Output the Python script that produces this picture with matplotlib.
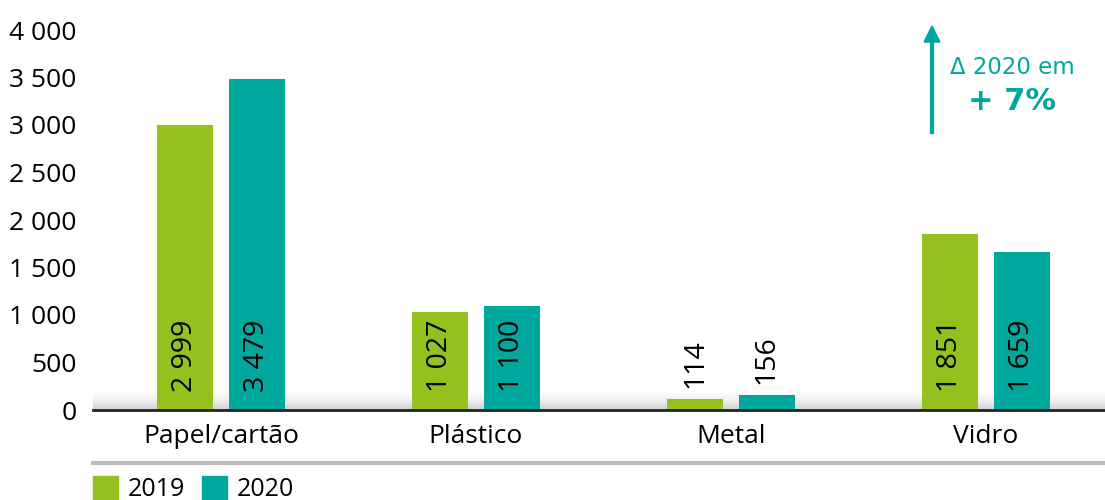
import numpy as np
import matplotlib.pyplot as plt
from matplotlib.patches import Rectangle

categories = ['Papel/cartão', 'Plástico', 'Metal', 'Vidro']
vals_2019 = [2999, 1027, 114, 1851]
vals_2020 = [3479, 1100, 156, 1659]
labels_2019 = ['2 999', '1 027', '114', '1 851']
labels_2020 = ['3 479', '1 100', '156', '1 659']
yticks = [0, 500, 1000, 1500, 2000, 2500, 3000, 3500, 4000]
ytick_labels = ['0', '500', '1 000', '1 500', '2 000', '2 500', '3 000', '3 500', '4 000']

green = '#95C11F'
teal = '#00A79D'

plt.rcParams['font.family'] = ['Open Sans', 'DejaVu Sans']

fig = plt.figure(figsize=(11.05, 5.0), dpi=100)
# axes: left x=93, right x=1105, y=0 at pixel 410, y=4000 at pixel 30
ax = fig.add_axes([93 / 1105, 90 / 500, 1012 / 1105, 380 / 500])

x = np.arange(len(categories))
w = 0.22
off = 0.141
ax.bar(x - off, vals_2019, w, color=green, zorder=3)
ax.bar(x + off, vals_2020, w, color=teal, zorder=3)

for i in range(len(categories)):
    for xv, v, lab in [(x[i] - off, vals_2019[i], labels_2019[i]),
                       (x[i] + off, vals_2020[i], labels_2020[i])]:
        if v > 500:
            ax.text(xv, 190, lab, rotation=90, ha='center', va='bottom',
                    fontsize=20.5, color='black', zorder=4)
        else:
            ax.text(xv, v + 120, lab, rotation=90, ha='center', va='bottom',
                    fontsize=20.5, color='black', zorder=4)

ax.set_xlim(-0.502, 3.467)
ax.set_ylim(0, 4000)
ax.set_yticks(yticks)
ax.set_yticklabels(ytick_labels, fontsize=19)
ax.set_xticks(x)
ax.set_xticklabels(categories, fontsize=19)
ax.tick_params(axis='both', length=0)
ax.tick_params(axis='y', pad=12)
ax.tick_params(axis='x', pad=10)
for s in ['top', 'right', 'left']:
    ax.spines[s].set_visible(False)
ax.spines['bottom'].set_color('#222222')
ax.spines['bottom'].set_linewidth(2)
ax.spines['bottom'].set_zorder(5)

# soft shadow above the base line
grad = np.linspace(0, 1, 50).reshape(-1, 1)
ax.imshow(grad, extent=[-0.502, 3.467, 0, 200], aspect='auto', cmap='Greys',
          vmin=0, vmax=3.5, origin='upper', alpha=1, zorder=1)
ax.set_xlim(-0.502, 3.467)
ax.set_ylim(0, 4000)

# grey separator line and legend
fig.add_artist(plt.Line2D([93 / 1105, 1.0], [1 - 463 / 500] * 2, color='#bbbbbb', lw=3))
fig.add_artist(Rectangle((93 / 1105, 0), 25 / 1105, 24 / 500, color=green))
fig.text(128 / 1105, 11 / 500, '2019', fontsize=18, va='center', ha='left')
fig.add_artist(Rectangle((202 / 1105, 0), 25 / 1105, 24 / 500, color=teal))
fig.text(237 / 1105, 11 / 500, '2020', fontsize=18, va='center', ha='left')

# annotation arrow
fig.add_artist(plt.Line2D([932 / 1105] * 2, [1 - 132 / 500, 1 - 40 / 500], color=teal, lw=3))
fig.add_artist(plt.Polygon([[924 / 1105, 1 - 42 / 500], [940 / 1105, 1 - 42 / 500],
                            [932 / 1105, 1 - 26 / 500]], color=teal))
fig.text(1012 / 1105, 1 - 67 / 500, 'Δ 2020 em', fontsize=16.5, color=teal,
         ha='center', va='center', family=['DejaVu Sans'])
fig.text(1012 / 1105, 1 - 101 / 500, '+ 7%', fontsize=22, color=teal, fontweight='bold',
         ha='center', va='center', family=['DejaVu Sans'])

fig.savefig('out.png', dpi=100)
